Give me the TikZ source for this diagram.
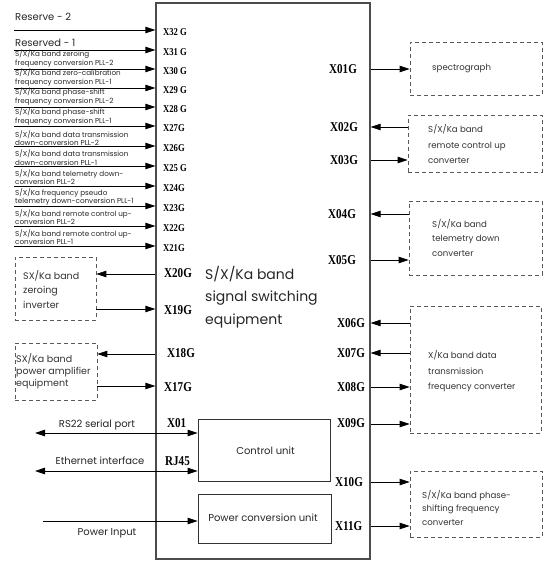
\documentclass[tikz,border=0pt]{standalone}
\usepackage{fontspec}
\setmainfont{Poppins}
\newfontfamily\portf{Liberation Serif}[FakeStretch=0.82]
\usetikzlibrary{arrows.meta}
\begin{document}
\begin{tikzpicture}[x=1pt,y=-1pt,
  arr/.style={draw=black, line width=0.8pt, -{Triangle[length=10pt,width=6.5pt]}},
  darr/.style={draw=black, line width=0.8pt, {Triangle[length=10pt,width=6.5pt]}-{Triangle[length=10pt,width=6.5pt]}},
  dbox/.style={draw=black!65, dashed, dash pattern=on 4pt off 3pt, line width=0.7pt, inner sep=0pt},
  sbox/.style={draw=black!80, line width=0.7pt, inner sep=0pt},
  portS/.style={font=\portf\bfseries\fontsize{10.5}{11}\selectfont, anchor=west, inner sep=0pt},
  portL/.style={font=\portf\bfseries\fontsize{13.5}{14}\selectfont, anchor=west, inner sep=0pt},
  sig/.style={font=\fontsize{7.2}{8.4}\selectfont, anchor=west, align=left, inner sep=0pt, text=black!85},
  bigl/.style={font=\fontsize{10}{11}\selectfont, anchor=west, inner sep=0pt, text=black!85},
  btxt/.style={anchor=west, align=left, inner sep=0pt, text=black!80}
]
\useasboundingbox (0,0) rectangle (544,562);

% main box
\node[draw=black!70, line width=1.2pt, minimum width=214pt, minimum height=556pt, inner sep=0pt] (main) at (263,281) {};
\node[font=\fontsize{14}{22.5}\selectfont, anchor=west, align=left, inner sep=0pt, text=black!85] (title) at (205,297) {S/X/Ka band\\signal switching\\equipment};

% left input signals
\foreach \y/\n/\lab in {30/32/X32 G,50/31/X31 G,69/30/X30 G,88/29/X29 G,107/28/X28 G,126/27/X27G,146/26/X26G,166/25/X25 G,186/24/X24G,206/23/X23G,226/22/X22G,246/21/X21G}{
  \coordinate (l\n) at (14,\y);
  \draw[arr] (l\n) -- (l\n -| main.west);
  \node[portS] (p\n) at (163,\y+2.5) {\lab};
}
\node[bigl] (t32) at (15,17) {Reserve - 2};
\node[bigl] (t31) at (15,43) {Reserved - 1};
\node[sig] (t30) at (15,58.5) {S/X/Ka band zeroing\\frequency conversion PLL-2};
\node[sig] (t29) at (15,77.5) {S/X/Ka band zero-calibration\\frequency conversion PLL-1};
\node[sig] (t28) at (15,96.5) {S/X/Ka band phase-shift\\frequency conversion PLL-2};
\node[sig] (t27) at (15,116.5) {S/X/Ka band phase-shift\\frequency conversion PLL-1};
\node[sig] (t26) at (15,138) {S/X/Ka band data transmission\\down-conversion PLL-2};
\node[sig] (t25) at (15,157.5) {S/X/Ka band data transmission\\down-conversion PLL-1};
\node[sig] (t24) at (15,177) {S/X/Ka band telemetry down-\\conversion PLL-2};
\node[sig] (t23) at (15,197) {S/X/Ka frequency pseudo\\telemetry down-conversion PLL-1};
\node[sig] (t22) at (15,217) {S/X/Ka band remote control up-\\conversion PLL-2};
\node[sig] (t21) at (15,237) {S/X/Ka band remote control up-\\conversion PLL-1};

% left boxes
\node[dbox, minimum width=81pt, minimum height=63pt] (zinv) at (55.5,288.5) {};
\node[btxt, font=\fontsize{9.5}{14.5}\selectfont] (zinvt) at (23,289.5) {SX/Ka band\\zeroing\\inverter};
\node[dbox, minimum width=82pt, minimum height=57pt] (pamp) at (56,371.5) {};
\node[btxt, font=\fontsize{9.5}{12}\selectfont] (pampt) at (16,371) {SX/Ka band\\power amplifier\\equipment};

\coordinate (y20) at (0,274);
\coordinate (y19) at (0,309);
\coordinate (y18) at (0,354);
\coordinate (y17) at (0,386);
\draw[arr] (y20 -| main.west) -- (y20 -| zinv.east);
\draw[arr] (y19 -| zinv.east) -- (y19 -| main.west);
\draw[arr] (y18 -| main.west) -- (y18 -| pamp.east);
\draw[arr] (y17 -| pamp.east) -- (y17 -| main.west);
\node[portL] (p20) at (164,273) {X20G};
\node[portL] (p19) at (164,310) {X19G};
\node[portL] (p18) at (167,353) {X18G};
\node[portL] (p17) at (164,387) {X17G};

% inner units
\node[sbox, minimum width=132pt, minimum height=62pt] (ctrl) at (264,450) {};
\node[font=\fontsize{10}{11}\selectfont, inner sep=0pt, text=black!85] (ctrlt) at (265.5,451) {Control unit};
\node[sbox, minimum width=133pt, minimum height=49pt] (pwr) at (264.5,518.5) {};
\node[font=\fontsize{10}{11}\selectfont, inner sep=0pt, text=black!85] (pwrt) at (263,518) {Power conversion unit};

\coordinate (rs) at (35,433);
\coordinate (eth) at (35,471);
\coordinate (pin) at (43,521);
\draw[darr] (rs) -- (rs -| ctrl.west);
\draw[darr] (eth) -- (eth -| ctrl.west);
\draw[arr] (pin) -- (pin -| pwr.west);
\node[font=\fontsize{10}{11}\selectfont, inner sep=0pt, text=black!85] (rst) at (97,425) {RS22 serial port};
\node[font=\fontsize{10}{11}\selectfont, inner sep=0pt, text=black!85] (etht) at (100,461) {Ethernet interface};
\node[font=\fontsize{10}{11}\selectfont, inner sep=0pt, text=black!85] (pint) at (107,533) {Power Input};
\node[portL] (px01) at (167,423) {X01};
\node[portL] (prj) at (165,461) {RJ45};

% right boxes
\node[dbox, minimum width=132pt, minimum height=53pt] (spec) at (476,68.5) {};
\node[btxt, font=\fontsize{8.6}{10}\selectfont] (spect) at (432,68) {spectrograph};
\node[dbox, minimum width=134pt, minimum height=57pt] (rcu) at (475,143.5) {};
\node[btxt, font=\fontsize{8.6}{15.5}\selectfont] (rcut) at (428,144) {S/X/Ka band\\remote control up\\converter};
\node[dbox, minimum width=133pt, minimum height=74pt] (tdc) at (475.5,238) {};
\node[btxt, font=\fontsize{8.6}{14.5}\selectfont] (tdct) at (432,237.5) {S/X/Ka band\\telemetry down\\converter};
\node[dbox, minimum width=131pt, minimum height=127pt] (dtf) at (475.5,369.5) {};
\node[btxt, font=\fontsize{8.6}{15.5}\selectfont] (dtft) at (428,371.5) {X/Ka band data\\transmission\\frequency converter};
\node[dbox, minimum width=132pt, minimum height=66pt] (psf) at (476,504) {};
\node[btxt, font=\fontsize{8.6}{13.5}\selectfont] (psft) at (422,507.5) {S/X/Ka band phase-\\shifting frequency\\converter};

\coordinate (y01) at (0,69);
\coordinate (y02) at (0,127);
\coordinate (y03) at (0,160);
\coordinate (y04) at (0,214);
\coordinate (y05) at (0,260);
\coordinate (y06) at (0,323);
\coordinate (y07) at (0,353);
\coordinate (y08) at (0,387);
\coordinate (y09) at (0,424);
\coordinate (y10) at (0,482);
\coordinate (y11) at (0,526);
\draw[arr] (y01 -| main.east) -- (y01 -| spec.west);
\draw[arr] (y02 -| rcu.west) -- (y02 -| main.east);
\draw[arr] (y03 -| main.east) -- (y03 -| rcu.west);
\draw[arr] (y04 -| tdc.west) -- (y04 -| main.east);
\draw[arr] (y05 -| main.east) -- (y05 -| tdc.west);
\draw[arr] (y06 -| dtf.west) -- (y06 -| main.east);
\draw[arr] (y07 -| dtf.west) -- (y07 -| main.east);
\draw[arr] (y08 -| main.east) -- (y08 -| dtf.west);
\draw[arr] (y09 -| main.east) -- (y09 -| dtf.west);
\draw[arr] (y10 -| main.east) -- (y10 -| psf.west);
\draw[arr] (y11 -| main.east) -- (y11 -| psf.west);
\node[portL] (q01) at (329,69) {X01G};
\node[portL] (q02) at (330,127) {X02G};
\node[portL] (q03) at (330,160) {X03G};
\node[portL] (q04) at (328,214) {X04G};
\node[portL] (q05) at (328,260) {X05G};
\node[portL] (q06) at (337,323) {X06G};
\node[portL] (q07) at (337,353) {X07G};
\node[portL] (q08) at (337,387) {X08G};
\node[portL] (q09) at (337,423) {X09G};
\node[portL] (q10) at (335,482) {X10G};
\node[portL] (q11) at (335,526) {X11G};
\end{tikzpicture}
\end{document}
